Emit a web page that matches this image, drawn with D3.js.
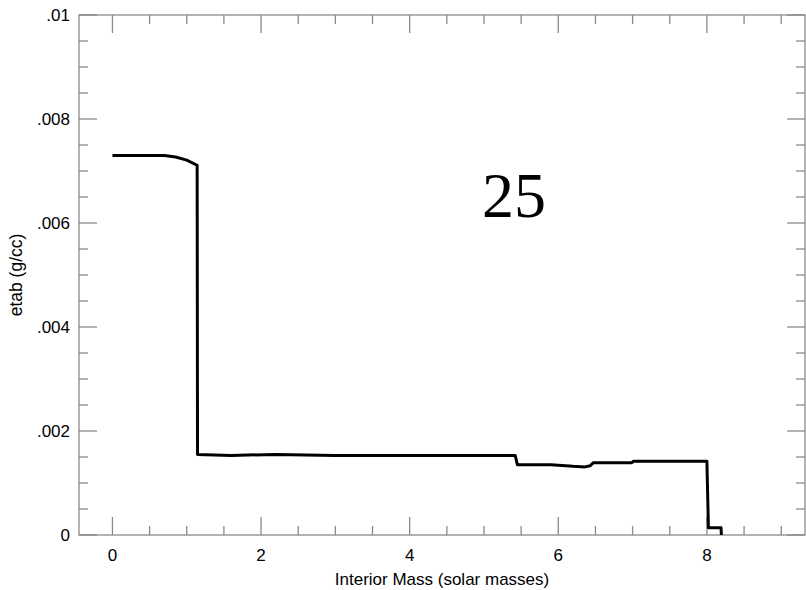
<!DOCTYPE html>
<html>
<head>
	<meta charset="UTF-8">
	<title>etab vs interior mass</title>
	<script src="https://cdn.jsdelivr.net/npm/d3@7"></script>
	<style>
		body { padding: 0; margin: 0; background: #fff; }
	</style>
</head>
<body>
	<script>
		var w = 806,
			h = 590;

		// profile
		var mass = [0, 0.3, 0.7, 0.85, 1.0, 1.14, 1.145, 1.6, 2.2, 3.0, 4.0, 5.42, 5.45, 5.9, 6.2, 6.36, 6.43, 6.47, 6.99, 7.01, 8.0, 8.02, 8.19, 8.195];
		var etab = [0.0073, 0.0073, 0.0073, 0.00727, 0.00721, 0.00711, 0.00155, 0.00153, 0.00155, 0.00153, 0.00153, 0.00153, 0.00135, 0.00135, 0.00132, 0.00131, 0.00133, 0.00139, 0.00139, 0.00142, 0.00142, 0.00014, 0.00014, 0];

		var xMajor = [0, 2, 4, 6, 8];
		var yMajor = [0, 0.002, 0.004, 0.006, 0.008, 0.01];
		var yLabels = ["0", ".002", ".004", ".006", ".008", ".01"];
		var label = "25";

		var pLeft = 79, pRight = 805, pTop = 15, pBottom = 535;

		var x = d3.scaleLinear().domain([-0.45, 9.32]).range([pLeft, pRight]);
		var y = d3.scaleLinear().domain([0, 0.01]).range([pBottom, pTop]);

		var svg = d3.select("body").append("svg")
			.attr("width", w)
			.attr("height", h);

		var axisColor = "#8a8a8a";
		var xMinor = d3.range(0, 9.4, 0.5).filter(function (d) { return x(d) <= pRight; });
		var yMinor = d3.range(0, 0.01001, 0.0005);

		function fmtY(d) {
			var i = yMajor.findIndex(function (v) { return Math.abs(v - d) < 1e-9; });
			return i >= 0 ? yLabels[i] : "";
		}

		var axes = svg.append("g").attr("stroke", axisColor).attr("stroke-width", 1.3);
		axes.append("rect")
			.attr("x", pLeft).attr("y", pTop)
			.attr("width", pRight - pLeft).attr("height", pBottom - pTop)
			.attr("fill", "none");

		xMinor.forEach(function (d) {
			var len = xMajor.indexOf(d) >= 0 ? 18 : 9;
			axes.append("line").attr("x1", x(d)).attr("x2", x(d)).attr("y1", pBottom).attr("y2", pBottom - len);
			axes.append("line").attr("x1", x(d)).attr("x2", x(d)).attr("y1", pTop).attr("y2", pTop + len);
		});
		yMinor.forEach(function (d, i) {
			var len = i % 4 === 0 ? 18 : 9;
			axes.append("line").attr("x1", pLeft).attr("x2", pLeft + len).attr("y1", y(d)).attr("y2", y(d));
			axes.append("line").attr("x1", pRight).attr("x2", pRight - len).attr("y1", y(d)).attr("y2", y(d));
		});

		var font = "'Liberation Sans', Helvetica, Arial, sans-serif";

		svg.selectAll("text.xl").data(xMajor).enter().append("text")
			.attr("x", function (d) { return x(d); })
			.attr("y", 561)
			.attr("text-anchor", "middle")
			.attr("font-family", font).attr("font-size", 17)
			.text(function (d) { return d; });

		svg.selectAll("text.yl").data(yMajor).enter().append("text")
			.attr("x", 70)
			.attr("y", function (d) { return y(d) + 6; })
			.attr("text-anchor", "end")
			.attr("font-family", font).attr("font-size", 17)
			.text(fmtY);

		svg.append("text")
			.attr("x", (pLeft + pRight) / 2).attr("y", 585)
			.attr("text-anchor", "middle")
			.attr("font-family", font).attr("font-size", 17)
			.text("Interior Mass (solar masses)");

		svg.append("text")
			.attr("transform", "translate(22," + ((pTop + pBottom) / 2) + ") rotate(-90)")
			.attr("text-anchor", "middle")
			.attr("font-family", font).attr("font-size", 17.5)
			.text("etab (g/cc)");

		var pts = mass.map(function (m, i) { return [m, etab[i]]; });
		var line = d3.line()
			.x(function (d) { return x(d[0]); })
			.y(function (d) { return y(d[1]); });

		svg.append("path")
			.datum(pts)
			.attr("d", line)
			.attr("fill", "none")
			.attr("stroke", "#000")
			.attr("stroke-width", 3)
			.attr("stroke-linejoin", "round");

		svg.append("text")
			.attr("x", 514).attr("y", 217)
			.attr("text-anchor", "middle")
			.attr("font-family", "'Liberation Serif', 'Times New Roman', serif")
			.attr("font-size", 64)
			.text(label);
	</script>
</body>
</html>
